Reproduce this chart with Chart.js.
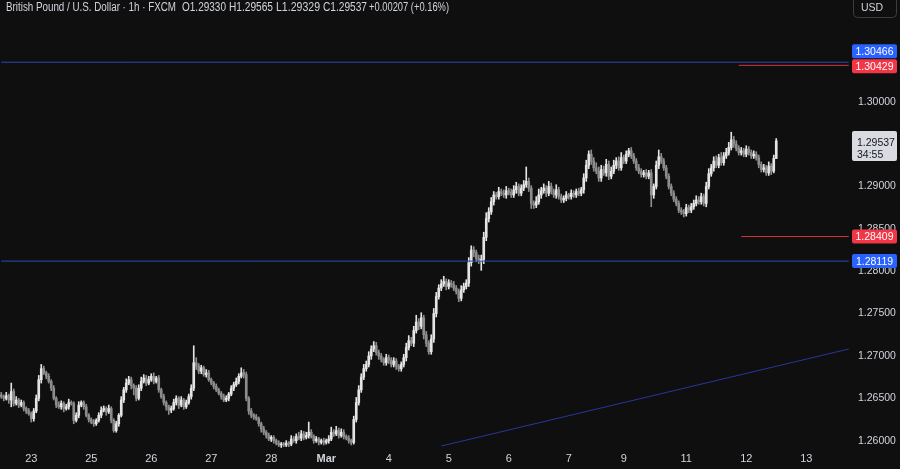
<!DOCTYPE html>
<html><head><meta charset="utf-8">
<script src="https://cdn.jsdelivr.net/npm/chart.js@4.4.1/dist/chart.umd.min.js"></script>
<style>html,body{margin:0;padding:0;background:#0f0f0f;overflow:hidden}#wrap{width:900px;height:469px;position:relative}</style>
</head><body><div id="wrap"><canvas id="c" width="900" height="469"></canvas></div>
<script>
// ---- DATA (prices in pips above BASE) ----
const BASE = 1.26;
const CATEGORY_COUNT = 340;
const firstOpenPips = 54;
const closePips = [
 52,50,53,48,58,44,48,42,45,38,
 35,32,26,35,50,72,85,80,76,70,
 62,50,42,40,44,38,40,45,44,24,
 30,42,45,40,30,25,22,20,24,30,
 36,38,34,38,24,12,20,30,48,60,
 68,72,65,62,50,62,70,74,68,72,
 76,70,74,60,52,45,40,36,38,45,
 50,42,48,40,45,52,62,92,88,82,
 86,78,80,72,68,64,60,56,52,48,
 50,55,62,66,70,76,80,78,50,35,
 30,28,26,20,14,10,6,2,4,0,
 -3,-5,-4,-5,-3,-4,2,0,5,3,
 8,4,6,10,5,0,2,-2,0,-2,
 0,2,10,8,12,6,10,5,3,0,
 -2,25,45,60,75,85,90,100,108,112,
 104,100,96,92,98,95,90,94,88,85,
 90,98,110,118,115,130,140,135,145,125,
 115,105,120,150,170,180,185,188,182,186,
 184,180,176,168,178,182,186,210,225,222,
 215,212,214,240,262,270,282,290,288,294,
 292,290,295,293,290,296,300,292,298,302,
 306,298,280,278,282,290,295,298,292,300,
 294,290,296,288,284,286,290,288,292,290,
 294,292,296,310,325,338,330,322,318,310,
 320,316,326,312,318,325,330,322,334,330,
 338,342,336,330,322,318,314,316,312,316,
 290,300,325,335,330,322,312,300,292,285,
 280,272,270,268,275,272,276,280,284,282,
 288,280,300,315,322,330,325,334,328,336,
 340,346,355,350,345,340,342,338,344,340,
 336,338,334,326,320,322,316,324,318,333,
 353.7
];
const wickUpPips = [
 3,2,4,2,10,3,4,2,3,2,
 2,3,2,3,4,5,5,3,2,3,
 2,3,2,4,3,2,3,4,2,2,
 3,4,2,2,3,2,2,3,2,3,
 4,3,2,4,2,2,3,2,4,3,
 5,4,3,2,3,4,5,4,3,4,
 3,4,2,3,2,3,2,2,3,4,
 3,2,4,2,3,3,4,20,6,3,
 3,2,4,3,2,2,3,2,2,3,
 3,2,3,3,4,3,6,4,3,2,
 3,2,3,2,2,3,2,3,2,2,
 2,3,2,2,3,2,4,3,3,5,
 4,3,4,12,3,2,3,2,2,3,
 2,4,6,3,5,3,4,3,2,3,
 2,4,6,5,4,5,4,5,4,5,
 4,3,3,2,4,3,3,4,3,2,
 3,4,5,6,4,5,8,4,6,3,
 4,3,5,6,5,4,5,6,3,4,
 3,4,3,3,5,4,4,6,5,4,
 3,4,5,6,7,5,5,4,3,5,
 3,4,5,3,4,5,5,3,4,5,
 17,4,3,3,6,7,4,5,3,6,
 4,3,6,3,3,3,4,2,4,3,
 3,4,3,5,6,4,5,4,6,5,
 5,4,6,4,5,6,4,5,6,3,
 4,3,4,3,3,4,3,3,4,3,
 4,3,5,8,4,3,3,3,3,3,
 3,3,3,3,4,3,4,4,5,4,
 4,3,5,6,4,5,6,4,6,4,
 5,6,9,4,4,3,4,3,4,3,
 3,4,3,3,3,4,3,5,3,4,
 2.8
];
const wickDownPips = [
 2,3,2,4,8,3,2,3,2,3,
 3,2,4,3,2,3,4,2,3,2,
 3,2,3,2,3,4,2,3,2,4,
 2,3,2,3,2,3,2,3,2,2,
 3,2,4,2,3,2,2,3,2,3,
 3,2,4,8,3,2,3,2,3,2,
 2,3,2,3,2,3,4,5,3,2,
 3,4,2,3,2,2,3,3,4,3,
 3,2,3,2,2,3,2,2,3,2,
 2,3,2,3,2,3,2,4,3,4,
 3,3,2,3,4,3,3,2,3,3,
 2,2,3,2,2,3,2,2,3,2,
 3,3,2,3,2,3,2,3,2,3,
 2,3,2,3,2,3,2,3,2,3,
 3,2,3,3,3,3,3,3,4,3,
 3,4,3,3,3,4,3,3,4,3,
 3,3,4,3,3,4,3,4,3,5,
 4,3,3,4,4,3,3,3,4,3,
 3,3,3,4,3,3,3,4,4,5,
 4,3,11,5,4,4,3,4,3,3,
 3,3,4,3,3,3,4,3,3,3,
 3,4,6,4,3,3,4,3,4,3,
 3,3,4,3,3,3,3,3,3,3,
 3,3,3,4,4,4,4,4,3,4,
 4,3,4,4,3,3,4,3,3,3,
 3,3,3,3,3,3,3,3,3,3,
 14,4,3,4,3,3,3,3,3,3,
 3,3,3,4,3,3,3,3,3,3,
 3,3,4,3,3,4,3,3,3,3,
 3,3,3,4,3,3,3,3,3,3,
 3,3,3,4,3,3,3,3,4,2,
 0.1
];
const tickIndex = [12,36,60,84,108,130,155,179,203,227,249,274,298,322];
const tickText  = ['23','25','26','27','28','Mar','4','5','6','7','9','11','12','13'];
const levelBlueTop = 1.30466, levelRedTop = 1.30429, levelRedLow = 1.28409, levelBlueLow = 1.28119;
const redTopStart = 295, redLowStart = 296, lineEnd = 339;
const trendIdx = [176, 339];
const trendVal = [1.25937, 1.27082];
const lastPrice = 1.29537;
const countdown = '34:55';
const headerParts = [
  ['British Pound / U.S. Dollar \u00b7 1h \u00b7 FXCM', 6, 170],
  ['O1.29330', 182, 44], ['H1.29565', 229, 44], ['L1.29329', 276, 44], ['C1.29537', 323, 44],
  ['+0.00207 (+0.16%)', 369, 80]
];
const hiddenTicks = [129500, 130500, 131000];

// ---- BUILD ----
const UP = '#e4e4e4', DOWN = '#8d8d8d', TXT = '#d1d4dc', FONT = 'Liberation Sans, Arial, sans-serif';
const labels = Array.from({length: CATEGORY_COUNT}, () => '');
tickIndex.forEach((ix, k) => { labels[ix] = tickText[k]; });
const bodies = new Array(CATEGORY_COUNT).fill(null);
const wicks = new Array(CATEGORY_COUNT).fill(null);
const colors = new Array(CATEGORY_COUNT).fill(UP);
for (let i = 0; i < closePips.length; i++) {
  const o = i === 0 ? firstOpenPips : closePips[i - 1];
  const c = closePips[i];
  const hi = Math.max(o, c) + wickUpPips[i];
  const lo = Math.min(o, c) - wickDownPips[i];
  bodies[i] = [BASE + o / 1e4, BASE + c / 1e4];
  wicks[i] = [BASE + lo / 1e4, BASE + hi / 1e4];
  colors[i] = c >= o ? UP : DOWN;
}
function seg(i0, v0, i1, v1) { const a = new Array(CATEGORY_COUNT).fill(null); a[i0] = v0; a[i1] = v1; return a; }
const lineDs = (data, color) => ({type: 'line', data, borderColor: color, borderWidth: 1, pointRadius: 0, spanGaps: true, order: 0, clip: false});

function rr(ctx, x, y, w, h, r) {
  ctx.beginPath(); ctx.moveTo(x + r, y); ctx.lineTo(x + w - r, y); ctx.quadraticCurveTo(x + w, y, x + w, y + r);
  ctx.lineTo(x + w, y + h - r); ctx.quadraticCurveTo(x + w, y + h, x + w - r, y + h); ctx.lineTo(x + r, y + h);
  ctx.quadraticCurveTo(x, y + h, x, y + h - r); ctx.lineTo(x, y + r); ctx.quadraticCurveTo(x, y, x + r, y); ctx.closePath();
}

const decor = {
  id: 'decor',
  beforeDraw(chart) {
    const ctx = chart.ctx; ctx.save(); ctx.fillStyle = '#0f0f0f'; ctx.fillRect(0, 0, chart.width, chart.height); ctx.restore();
  },
  afterDraw(chart) {
    const ctx = chart.ctx, y = chart.scales.y;
    ctx.save();
    // header
    ctx.font = '12px ' + FONT; ctx.fillStyle = TXT; ctx.textBaseline = 'middle'; ctx.textAlign = 'left';
    headerParts.forEach(p => ctx.fillText(p[0], p[1], 8, p[2]));
    // USD button
    ctx.strokeStyle = '#3a3d45'; ctx.lineWidth = 1; rr(ctx, 853.5, -4, 43, 21.5, 4); ctx.stroke();
    ctx.font = '10.5px ' + FONT; ctx.fillText('USD', 861, 8);
    // price boxes
    const box = (val, cy, bg, fg) => {
      ctx.fillStyle = bg; rr(ctx, 852, cy - 7, 45, 14, 2); ctx.fill();
      ctx.fillStyle = fg; ctx.font = '10.5px ' + FONT; ctx.textAlign = 'center'; ctx.fillText(val.toFixed(5), 874.5, cy + 0.5);
    };
    const redTopY = y.getPixelForValue(levelRedTop);
    const blueTopY = Math.min(y.getPixelForValue(levelBlueTop), redTopY - 14);
    box(levelBlueTop, blueTopY, '#2962ff', '#ffffff');
    box(levelRedTop, redTopY + 1, '#f23645', '#ffffff');
    box(levelRedLow, y.getPixelForValue(levelRedLow), '#f23645', '#ffffff');
    box(levelBlueLow, y.getPixelForValue(levelBlueLow), '#2962ff', '#ffffff');
    // last price box
    const ly = y.getPixelForValue(lastPrice);
    ctx.fillStyle = '#d9dbe0'; rr(ctx, 852, ly - 10, 45, 30, 2); ctx.fill();
    ctx.fillStyle = '#131722'; ctx.textAlign = 'left'; ctx.font = '10.5px ' + FONT;
    ctx.fillText(lastPrice.toFixed(5), 857, ly + 2); ctx.fillText(countdown, 857, ly + 14);
    ctx.restore();
  }
};

new Chart(document.getElementById('c'), {
  type: 'bar',
  data: {
    labels,
    datasets: [
      lineDs(seg(0, levelBlueTop, lineEnd, levelBlueTop), '#2c48b8'),
      lineDs(seg(redTopStart, levelRedTop, lineEnd, levelRedTop), '#d8333f'),
      lineDs(seg(redLowStart, levelRedLow, lineEnd, levelRedLow), '#d8333f'),
      lineDs(seg(0, levelBlueLow, lineEnd, levelBlueLow), '#2c48b8'),
      lineDs(seg(trendIdx[0], trendVal[0], trendIdx[1], trendVal[1]), '#26379a'),
      {type: 'bar', data: bodies, backgroundColor: colors, barThickness: 2, grouped: false, minBarLength: 1, borderWidth: 0, order: 1},
      {type: 'bar', data: wicks, backgroundColor: colors, barThickness: 1, grouped: false, borderWidth: 0, order: 2}
    ]
  },
  options: {
    responsive: false, animation: false, events: [],
    layout: {padding: 0},
    plugins: {legend: {display: false}, tooltip: {enabled: false}},
    scales: {
      x: {
        type: 'category', offset: true,
        grid: {display: false, drawTicks: false}, border: {display: false},
        ticks: {autoSkip: false, maxRotation: 0, minRotation: 0, padding: 3, color: TXT,
          font: (c) => ({family: FONT, size: 11, weight: labels[c.index] === 'Mar' ? 'bold' : 'normal'})},
        afterFit: (s) => { s.height = 20; s.paddingLeft = 0; s.paddingRight = 0; }
      },
      y: {
        position: 'right', min: 1.25902, max: 1.31200,
        grid: {display: false, drawTicks: false}, border: {display: false},
        ticks: {stepSize: 0.005, includeBounds: false, autoSkip: false, padding: 8, color: TXT, font: {family: FONT, size: 10.5},
          callback: (v) => { const r = Math.round(v * 1e5); if (r % 500 !== 0 || hiddenTicks.includes(r)) return ''; return (r / 1e5).toFixed(5); }},
        afterFit: (s) => { s.width = 50; s.paddingTop = 0; s.paddingBottom = 0; }
      }
    }
  },
  plugins: [decor]
});
</script></body></html>
